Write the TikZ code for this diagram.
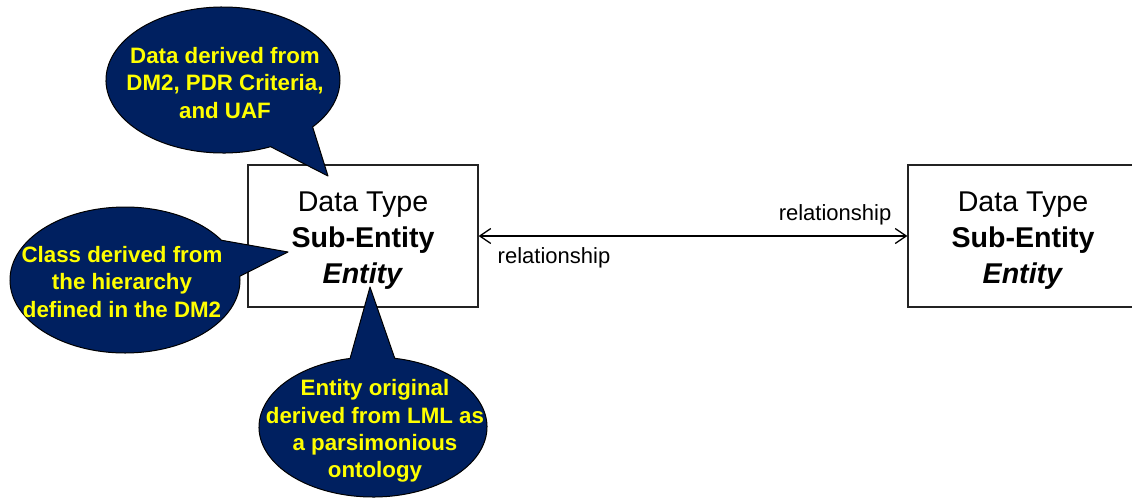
\documentclass[tikz,border=0pt]{standalone}
\usepackage{fontspec}
\setmainfont{Liberation Sans}
\usetikzlibrary{arrows.meta}
\definecolor{calloutblue}{RGB}{0,32,96}
\definecolor{calloutyellow}{RGB}{255,255,0}
\definecolor{boxline}{RGB}{35,35,35}

\begin{document}
\begin{tikzpicture}[x=1pt,y=-1pt,
  entitybox/.style={draw=boxline, line width=1.3pt, minimum width=230pt,
    minimum height=142pt, inner sep=0pt},
  entitytext/.style={align=center, inner sep=0pt,
    font=\fontsize{28.6}{36}\selectfont},
  callout/.style={fill=calloutblue, draw=black, line width=1pt, line join=round},
  callouttext/.style={text=calloutyellow, align=center, inner sep=0pt,
    font=\fontsize{22.3}{27.2}\selectfont\bfseries},
  rellabel/.style={font=\fontsize{22}{26}\selectfont, inner sep=0pt},
  barb/.tip={Straight Barb[length=11pt,width=15pt,line width=1.3pt]},
  relarrow/.style={draw=black, line width=1.3pt, {barb}-{barb}}
]
\useasboundingbox (0,0) rectangle (1132,501);

% the two entity boxes and the relationship between them
\node[entitybox] (boxA) at (363,236) {};
\node[entitytext] (boxAtext) at ([yshift=-4.5pt]boxA.center)
  {Data Type\\\textbf{Sub-Entity}\\\textbf{\itshape Entity}};
\node[entitybox] (boxB) at (1023,236) {};
\node[entitytext] (boxBtext) at ([yshift=-4.5pt]boxB.center)
  {Data Type\\\textbf{Sub-Entity}\\\textbf{\itshape Entity}};
\draw[relarrow] (boxA.east) -- (boxB.west);
\node[rellabel] (relTop) at (835,215) {relationship};
\node[rellabel] (relBottom) at (554,258) {relationship};

% callout above the box
\coordinate (tipData) at (328,176);
\draw[callout] (223,80) ++(66:117 and 73)
  arc[start angle=66, end angle=400, x radius=117, y radius=73]
  -- (tipData) -- cycle;
\node[callouttext] (noteData) at (225,83)
  {Data derived from\\DM2, PDR Criteria,\\and UAF};

% callout to the left of the box
\coordinate (tipClass) at (288,252);
\draw[callout] (125,280) ++(-3:115 and 73)
  arc[start angle=-3, end angle=327, x radius=115, y radius=73]
  -- (tipClass) -- cycle;
\node[callouttext] (noteClass) at (122,282)
  {Class derived from\\the hierarchy\\defined in the DM2};

% callout below the box
\coordinate (tipEntity) at (370,287);
\draw[callout] (373,427) ++(-79:114 and 70)
  arc[start angle=-79, end angle=258.4, x radius=114, y radius=70]
  -- (tipEntity) -- cycle;
\node[callouttext] (noteEntity) at (375,431)
  {Entity original\\derived from LML as\\a parsimonious\\ontology};
\end{tikzpicture}
\end{document}
